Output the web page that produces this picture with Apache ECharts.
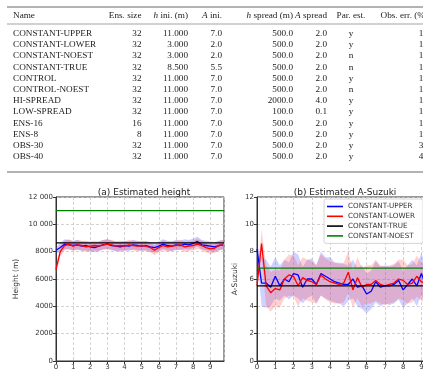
<!DOCTYPE html>
<html>
<head>
<meta charset="utf-8">
<script src="https://cdn.jsdelivr.net/npm/echarts@6/dist/echarts.min.js"></script>
<style>
  html, body { margin: 0; padding: 0; background: #fff; }
</style>
</head>
<body>
<div id="container" style="width:423px; height:370px"></div>
<script>
// table
var names = ["CONSTANT-UPPER", "CONSTANT-LOWER", "CONSTANT-NOEST", "CONSTANT-TRUE", "CONTROL", "CONTROL-NOEST",
  "HI-SPREAD", "LOW-SPREAD", "ENS-16", "ENS-8", "OBS-30", "OBS-40"];
var ensSize = ["32", "32", "32", "32", "32", "32", "32", "32", "16", "8", "32", "32"];
var hIni = ["11.000", "3.000", "3.000", "8.500", "11.000", "11.000", "11.000", "11.000", "11.000", "11.000", "11.000", "11.000"];
var aIni = ["7.0", "2.0", "2.0", "5.5", "7.0", "7.0", "7.0", "7.0", "7.0", "7.0", "7.0", "7.0"];
var hSpread = ["500.0", "500.0", "500.0", "500.0", "500.0", "500.0", "2000.0", "100.0", "500.0", "500.0", "500.0", "500.0"];
var aSpread = ["2.0", "2.0", "2.0", "2.0", "2.0", "2.0", "4.0", "0.1", "2.0", "2.0", "2.0", "2.0"];
var parEst = ["y", "y", "n", "n", "y", "n", "y", "y", "y", "y", "y", "y"];
var obsErr = ["10", "10", "10", "10", "10", "10", "10", "10", "10", "10", "30", "40"];

// time steps
var times = [0, 0.25, 0.5, 0.75, 1, 1.25, 1.5, 1.75, 2, 2.25, 2.5, 2.75, 3, 3.25, 3.5, 3.75, 4, 4.25, 4.5, 4.75,
  5, 5.25, 5.5, 5.75, 6, 6.25, 6.5, 6.75, 7, 7.25, 7.5, 7.75, 8, 8.25, 8.5, 8.75, 9, 9.25, 9.5, 9.75];

// (a) height
var hUpper = [8100, 8300, 8550, 8500, 8450, 8500, 8400, 8450, 8350, 8300, 8400, 8500, 8550, 8450, 8400, 8350, 8450, 8400, 8500, 8450,
  8400, 8450, 8350, 8300, 8400, 8550, 8450, 8400, 8500, 8450, 8550, 8500, 8600, 8750, 8500, 8450, 8400, 8350, 8450, 8500];
var hLower = [6700, 8000, 8450, 8550, 8400, 8500, 8450, 8350, 8400, 8450, 8400, 8500, 8550, 8500, 8400, 8450, 8400, 8500, 8450, 8400,
  8450, 8400, 8300, 8100, 8300, 8450, 8350, 8400, 8450, 8500, 8350, 8400, 8450, 8550, 8450, 8300, 8200, 8250, 8450, 8500];
var hUpperLo = [7900, 7950, 8200, 8150, 8100, 8150, 8050, 8100, 8000, 7950, 8050, 8150, 8200, 8100, 8050, 8000, 8100, 8050, 8150, 8100,
  8050, 8100, 8000, 7950, 8050, 8200, 8100, 8050, 8150, 8100, 8200, 8150, 8250, 8400, 8150, 8100, 8050, 8000, 8100, 8150];
var hUpperHi = [8300, 8650, 8900, 8850, 8800, 8850, 8750, 8800, 8700, 8650, 8750, 8850, 8900, 8800, 8750, 8700, 8800, 8750, 8850, 8800,
  8750, 8800, 8700, 8650, 8750, 8900, 8800, 8750, 8850, 8800, 8900, 8850, 8950, 9100, 8850, 8800, 8750, 8700, 8800, 8850];
var hLowerLo = [6300, 7650, 8100, 8200, 8050, 8150, 8100, 8000, 8050, 8100, 8050, 8150, 8200, 8150, 8050, 8100, 8050, 8150, 8100, 8050,
  8100, 8050, 7950, 7750, 7950, 8100, 8000, 8050, 8100, 8150, 8000, 8050, 8100, 8200, 8100, 7950, 7850, 7900, 8100, 8150];
var hLowerHi = [7100, 8350, 8800, 8900, 8750, 8850, 8800, 8700, 8750, 8800, 8750, 8850, 8900, 8850, 8750, 8800, 8750, 8850, 8800, 8750,
  8800, 8750, 8650, 8450, 8650, 8800, 8700, 8750, 8800, 8850, 8700, 8750, 8800, 8900, 8800, 8650, 8550, 8600, 8800, 8850];
var hTrue = 8650;
var hNoest = 11000;

// (b) A-Suzuki
var aUpper = [8.2, 5.7, 5.7, 5.4, 6.2, 5.5, 6.0, 5.8, 6.4, 6.3, 5.4, 6.0, 6.0, 5.6, 6.4, 6.2, 6.0, 5.8, 5.7, 5.6,
  5.6, 6.0, 5.4, 5.5, 4.9, 5.1, 5.8, 5.4, 5.5, 5.5, 5.6, 5.9, 5.2, 5.6, 6.0, 5.5, 6.4, 5.5, 6.2, 5.4];
var aLower = [5.5, 8.6, 5.5, 5.0, 5.3, 5.2, 6.0, 6.3, 6.2, 5.5, 6.1, 5.9, 5.8, 5.6, 6.3, 6.0, 5.8, 5.7, 5.6, 5.7,
  6.5, 5.2, 6.1, 5.4, 5.6, 5.6, 5.9, 5.6, 5.5, 5.6, 5.7, 6.0, 5.9, 5.6, 5.7, 6.2, 5.8, 5.7, 5.8, 5.0];
var aUpperLo = [7.8, 4.0, 3.9, 4.0, 4.6, 4.4, 4.8, 4.5, 4.8, 4.6, 4.2, 4.6, 4.8, 4.2, 4.8, 4.6, 4.4, 4.3, 4.2, 4.0,
  4.4, 4.6, 4.0, 3.8, 3.5, 3.8, 4.3, 4.0, 4.2, 4.1, 4.2, 4.5, 3.9, 4.2, 4.6, 4.0, 4.8, 4.1, 4.6, 4.0];
var aUpperHi = [8.5, 7.6, 7.4, 6.9, 7.6, 7.0, 7.4, 7.2, 8.0, 7.8, 6.9, 7.4, 7.5, 7.0, 8.0, 7.6, 7.6, 7.2, 7.2, 7.1,
  7.0, 7.4, 6.8, 7.0, 6.4, 6.6, 7.3, 6.9, 7.0, 6.9, 7.0, 7.3, 6.6, 7.0, 7.4, 7.0, 7.9, 6.9, 7.6, 6.8];
var aLowerLo = [5.2, 7.6, 4.0, 3.6, 4.0, 3.9, 4.6, 4.8, 4.7, 4.0, 4.6, 4.4, 4.3, 4.2, 4.8, 4.5, 4.3, 4.2, 4.2, 4.3,
  5.0, 3.9, 4.6, 4.0, 4.2, 4.2, 4.4, 4.2, 4.1, 4.2, 4.3, 4.6, 4.4, 4.2, 4.3, 4.7, 4.4, 4.2, 4.4, 3.8];
var aLowerHi = [5.9, 9.6, 7.0, 6.5, 6.7, 6.6, 7.4, 7.8, 7.7, 7.0, 7.6, 7.4, 7.3, 7.0, 7.8, 7.5, 7.3, 7.2, 7.1, 7.2,
  8.0, 6.6, 7.6, 6.8, 7.0, 7.0, 7.4, 7.0, 6.9, 7.0, 7.1, 7.4, 7.4, 7.0, 7.1, 7.7, 7.2, 7.1, 7.2, 6.4];
var aTrue = 5.5;
var aNoest = 6.8;

var BLUE = "#0000ff", RED = "#ff0000", BLACK = "#000000", GREEN = "#008000";
var serif = "Liberation Serif";
var sans = "DejaVu Sans";

function pairs(vals) {
  return times.map(function (t, i) { return [t, vals[i]]; });
}
function flat(v) {
  return [[0, v], [9.8, v]];
}

// filled band between two curves
function band(idx, lo, hi, color) {
  return {
    type: "custom",
    xAxisIndex: idx,
    yAxisIndex: idx,
    silent: true,
    z: 1,
    data: times.map(function (t, i) { return [t, lo[i], hi[i]]; }),
    renderItem: function (params, api) {
      if (params.dataIndex !== 0) return null;
      var top = times.map(function (t, i) { return api.coord([t, hi[i]]); });
      var bot = times.map(function (t, i) { return api.coord([t, lo[i]]); }).reverse();
      return { type: "polygon", shape: { points: top.concat(bot) }, style: { fill: color } };
    }
  };
}

function line(idx, name, data, color) {
  return {
    type: "line", name: name, xAxisIndex: idx, yAxisIndex: idx,
    data: data, showSymbol: false, symbol: "none", z: 3,
    lineStyle: { color: color, width: 1.3 }, itemStyle: { color: color }
  };
}

// table drawn as graphic text
var FS = 9.2;
var graphics = [];
var italic = { i: { fontStyle: "italic", fontFamily: serif, fontSize: FS, fill: "#222" } };
function txt(s, x, y, align, rich) {
  var st = { text: s, x: x, y: y, textAlign: align, textVerticalAlign: "middle",
    fontFamily: serif, fontSize: FS, fill: "#222" };
  if (rich) st.rich = rich;
  graphics.push({ type: "text", silent: true, style: st });
}
function rule(y, w) {
  graphics.push({ type: "line", silent: true, shape: { x1: 7, y1: y, x2: 430, y2: y },
    style: { stroke: "#666", lineWidth: w } });
}
rule(7, 1);
rule(24, 0.6);
rule(172, 1);
var hy = 15.5;
txt("Name", 13, hy, "left");
txt("Ens. size", 141.5, hy, "right");
txt("{i|h} ini. (m)", 188, hy, "right", italic);
txt("{i|A} ini.", 222, hy, "right", italic);
txt("{i|h} spread (m)", 293, hy, "right", italic);
txt("{i|A} spread", 327, hy, "right", italic);
txt("Par. est.", 351, hy, "center");
txt("Obs. err. (%)", 428, hy, "right");
names.forEach(function (n, i) {
  var y = 33.5 + i * 11.2;
  txt(n, 13, y, "left");
  txt(ensSize[i], 141.5, y, "right");
  txt(hIni[i], 188, y, "right");
  txt(aIni[i], 222, y, "right");
  txt(hSpread[i], 293, y, "right");
  txt(aSpread[i], 327, y, "right");
  txt(parEst[i], 351, y, "center");
  txt(obsErr[i], 428, y, "right");
});

function xAx(idx) {
  return {
    type: "value", gridIndex: idx, min: 0, max: 9.8, interval: 1,
    axisLine: { show: true, lineStyle: { color: "#333", width: 1 } },
    axisTick: { show: true, length: 3, lineStyle: { color: "#333" } },
    axisLabel: { fontFamily: sans, fontSize: 7, color: "#333", margin: 3, showMaxLabel: false },
    splitLine: { show: true, lineStyle: { color: "#c8c8c8", type: [3, 2], width: 0.8 } }
  };
}
function yAx(idx, max, interval, name, gap, fmt) {
  return {
    type: "value", gridIndex: idx, min: 0, max: max, interval: interval,
    name: name, nameLocation: "middle", nameGap: gap,
    nameTextStyle: { fontFamily: sans, fontSize: 7.5, color: "#333" },
    axisLine: { show: true, lineStyle: { color: "#333", width: 1 } },
    axisTick: { show: true, length: 3, lineStyle: { color: "#333" } },
    axisLabel: { fontFamily: sans, fontSize: 7, color: "#333", margin: 3, formatter: fmt },
    splitLine: { show: true, lineStyle: { color: "#c8c8c8", type: [3, 2], width: 0.8 } }
  };
}

var option = {
  animation: false,
  backgroundColor: "#fff",
  graphic: graphics,
  title: [
    { text: "(a) Estimated height", left: 139, top: 183, textAlign: "center",
      textStyle: { fontFamily: sans, fontSize: 9, fontWeight: "normal", color: "#222" } },
    { text: "(b) Estimated A-Suzuki", left: 340, top: 183, textAlign: "center",
      textStyle: { fontFamily: sans, fontSize: 9, fontWeight: "normal", color: "#222" } }
  ],
  legend: {
    data: ["CONSTANT-UPPER", "CONSTANT-LOWER", "CONSTANT-TRUE", "CONSTANT-NOEST"],
    orient: "vertical", left: 324, top: 199,
    padding: [4, 8, 4, 3], itemGap: 2.8, itemWidth: 16, itemHeight: 1.6, icon: "rect",
    backgroundColor: "rgba(255,255,255,0.85)", borderColor: "#ccc", borderWidth: 0.8, borderRadius: 2,
    textStyle: { fontFamily: sans, fontSize: 7.2, color: "#333" },
    selectedMode: false
  },
  grid: [
    { left: 56, top: 197, right: 199, bottom: 9, outerBoundsMode: "none",
      show: true, borderColor: "#333", borderWidth: 1 },
    { left: 257, top: 197, right: -13, bottom: 9, outerBoundsMode: "none",
      show: true, borderColor: "#333", borderWidth: 1 }
  ],
  xAxis: [xAx(0), xAx(1)],
  yAxis: [
    yAx(0, 12000, 2000, "Height (m)", 36, function (v) {
      return v >= 10000 ? String(v).replace(/(\d)(?=(\d{3})+$)/g, "$1 ") : String(v);
    }),
    yAx(1, 12, 2, "A-Suzuki", 18, null)
  ],
  series: [
    band(0, hUpperLo, hUpperHi, "rgba(70,70,255,0.28)"),
    band(0, hLowerLo, hLowerHi, "rgba(255,70,70,0.28)"),
    line(0, "CONSTANT-UPPER", pairs(hUpper), BLUE),
    line(0, "CONSTANT-LOWER", pairs(hLower), RED),
    line(0, "CONSTANT-TRUE", flat(hTrue), BLACK),
    line(0, "CONSTANT-NOEST", flat(hNoest), GREEN),
    band(1, aUpperLo, aUpperHi, "rgba(70,70,255,0.25)"),
    band(1, aLowerLo, aLowerHi, "rgba(255,70,70,0.25)"),
    line(1, "CONSTANT-UPPER", pairs(aUpper), BLUE),
    line(1, "CONSTANT-LOWER", pairs(aLower), RED),
    line(1, "CONSTANT-TRUE", flat(aTrue), BLACK),
    line(1, "CONSTANT-NOEST", flat(aNoest), GREEN)
  ]
};

var dom = document.getElementById("container");
var myChart = echarts.init(dom);
myChart.setOption(option, true);
</script>
</body>
</html>
